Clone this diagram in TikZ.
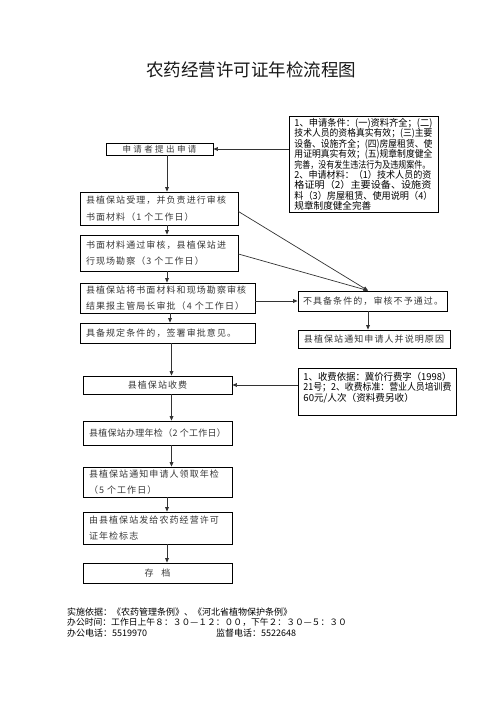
\documentclass[tikz,border=0pt]{standalone}
\usepackage{fontspec}
\usepackage{graphicx}
\setmainfont{Noto Sans CJK SC}
\newfontfamily\cjk{Noto Sans CJK SC}
\newfontfamily\boxfont[LetterSpace=12]{Noto Sans CJK SC}
\newfontfamily\tightboxfont[LetterSpace=3]{Noto Sans CJK SC}
\newfontfamily\wideboxfont[LetterSpace=28]{Noto Sans CJK SC}
\newcommand{\fitto}[2]{\resizebox{#1}{\height}{#2}}
\usetikzlibrary{arrows.meta}
\begin{document}
\begin{tikzpicture}[x=1pt,y=-1pt,
  box/.style={draw=black,line width=0.9pt,inner sep=0pt,text=black!78,
    font=\boxfont\fontsize{9}{16.5}\selectfont},
  note/.style={draw=black,line width=0.9pt,inner xsep=5pt,inner ysep=1pt,text=black,align=left,
    font=\cjk\fontsize{9.6}{10.4}\selectfont},
  arr/.style={-{Triangle[length=4.5pt,width=3.8pt]},line width=0.7pt,draw=black!80},
  foot/.style={anchor=west,inner sep=0pt,text=black,font=\cjk\fontsize{9}{10.5}\selectfont}]
\useasboundingbox (0,0) rectangle (496,702);
\fill[white] (0,0) rectangle (496,702);

\node[font=\cjk\fontsize{17.5}{20}\selectfont,text=black!90] (title) at (251,70) {农药经营许可证年检流程图};

% left column
\node[box,minimum width=107,minimum height=12,font=\wideboxfont\fontsize{8.5}{10}\selectfont] (b1) at (159.5,149) {申请者提出申请};
\node[box,minimum width=158,minimum height=33,text width=146pt,align=left] (b2) at (159,208.5) {县植保站受理，并负责进行审核\\书面材料（1 个工作日）};
\node[box,minimum width=158,minimum height=36,text width=146pt,align=left] (b3) at (159,253) {书面材料通过审核，县植保站进\\行现场勘察（3 个工作日）};
\node[box,minimum width=175,minimum height=30,text width=163pt,align=left] (b4) at (167.5,298) {县植保站将书面材料和现场勘察审核\\结果报主管局长审批（4 个工作日）};
\node[box,minimum width=175,minimum height=20,text width=163pt,align=left] (b5) at (167.5,333) {具备规定条件的，签署审批意见。};
\node[box,minimum width=149,minimum height=18] (b6) at (157.5,385) {县植保站收费};
\node[box,minimum width=149,minimum height=24,font=\tightboxfont\fontsize{9}{12}\selectfont] (b7) at (157.5,433) {县植保站办理年检（2 个工作日）};
\node[box,minimum width=149,minimum height=30,text width=137pt,align=left] (b8) at (157.5,482) {县植保站通知申请人领取年检\\（5 个工作日）};
\node[box,minimum width=149,minimum height=32,text width=137pt,align=left] (b9) at (157.5,528) {由县植保站发给农药经营许可\\证年检标志};
\node[box,minimum width=149,minimum height=20] (b10) at (157.5,573) {存\hspace{8pt}档};

% right column
\node[note,anchor=north west,minimum width=149,minimum height=96,text width=139pt] (r1) at (289,116)
  {\fitto{138pt}{1、申请条件：(一)资料齐全；(二)}\\
   \fitto{138pt}{技术人员的资格真实有效；(三)主要}\\
   \fitto{138pt}{设备、设施齐全；(四)房屋租赁、使}\\
   \fitto{138pt}{用证明真实有效；(五)规章制度健全}\\
   \fitto{136pt}{完善，没有发生违法行为及违规案件。}\\
   \fitto{137pt}{2、申请材料：（1）技术人员的资}\\
   \fitto{137pt}{格证明（2）主要设备、设施资}\\
   \fitto{138pt}{料（3）房屋租赁、使用说明（4）}\\
   规章制度健全完善};
\node[box,minimum width=149,minimum height=20,text width=139pt,align=left] (n1) at (372.5,301) {不具备条件的，审核不予通过。};
\node[box,minimum width=152,minimum height=18] (n2) at (374,339) {县植保站通知申请人并说明原因};
\node[note,anchor=north west,minimum width=157,minimum height=47,text width=148pt] (r2) at (298,368)
  {\fitto{148pt}{1、收费依据：冀价行费字（1998）}\\
   \fitto{148pt}{21号；2、收费标准：营业人员培训费}\\
   60元/人次（资料费另收）\\
   \mbox{}};

% connectors
\draw[arr] (r1.west |- b1.east) -- (b1.east);
\draw[arr] ([xshift=7.5pt]b1.south) -- ([xshift=7.5pt]b1.south |- b2.north);
\draw[arr] ([xshift=8pt]b2.south) -- ([xshift=8pt]b2.south |- b3.north);
\draw[arr] ([xshift=8pt]b3.south) -- ([xshift=8pt]b3.south |- b4.north);
\draw[arr] ([xshift=2.5pt]b4.south) -- ([xshift=2.5pt]b4.south |- b5.north);
\draw[arr] ([xshift=4pt]b5.south) -- ([xshift=4pt]b5.south |- b6.north);
\draw[arr] ([xshift=14pt]b6.south) -- ([xshift=14pt]b6.south |- b7.north);
\draw[arr] ([xshift=14pt]b7.south) -- ([xshift=14pt]b7.south |- b8.north);
\draw[arr] ([xshift=9.5pt]b8.south) -- ([xshift=9.5pt]b8.south |- b9.north);
\draw[arr] ([xshift=9.5pt]b9.south) -- ([xshift=9.5pt]b9.south |- b10.north);
\coordinate (n1in) at ([xshift=-4.5pt]n1.north);
\draw[arr] ([yshift=-3pt]b2.east) -- (n1in);
\draw[arr] ([yshift=-1pt]b3.east) -- (n1in);
\draw[arr] (b4.east |- n1.west) -- (n1.west);
\draw[arr] ([xshift=-4.5pt]n1.south) -- ([xshift=-4.5pt]n1.south |- n2.north);
\draw[arr] (r2.west |- b6.east) -- (b6.east);

% footer
\node[foot] (f1) at (67,612) {实施依据：《农药管理条例》、《河北省植物保护条例》};
\node[foot,font=\cjk\fontsize{8.8}{10.5}\selectfont] (f2) at (67,622.5) {办公时间：工作日上午８：３０—１２：００，下午２：３０—５：３０};
\node[foot] (f3) at (67,633) {办公电话：5519970};
\node[foot] (f4) at (216,633) {监督电话：5522648};
\end{tikzpicture}
\end{document}
